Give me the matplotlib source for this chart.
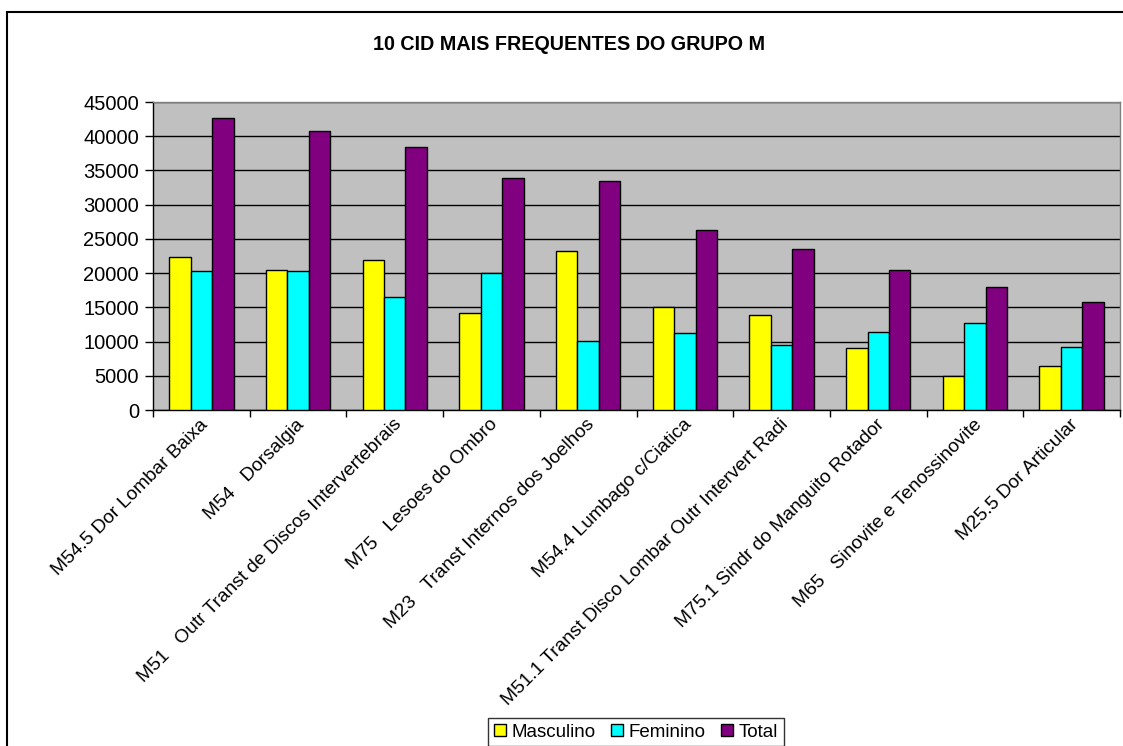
import matplotlib
matplotlib.use("Agg")
import matplotlib.pyplot as plt
import numpy as np
from matplotlib.patches import Rectangle
from matplotlib.transforms import offset_copy

categories = [
    "M54.5 Dor Lombar Baixa",
    "M54   Dorsalgia",
    "M51   Outr Transt de Discos Intervertebrais",
    "M75   Lesoes do Ombro",
    "M23   Transt Internos dos Joelhos",
    "M54.4 Lumbago c/Ciatica",
    "M51.1 Transt Disco Lombar Outr Intervert Radi",
    "M75.1 Sindr do Manguito Rotador",
    "M65   Sinovite e Tenossinovite",
    "M25.5 Dor Articular",
]
masculino = [22300, 20450, 21950, 14100, 23300, 15100, 13900, 9050, 5000, 6500]
feminino = [20250, 20250, 16450, 19950, 10050, 11200, 9550, 11400, 12750, 9250]
total = [42600, 40750, 38450, 33900, 33400, 26350, 23450, 20450, 17900, 15750]
series_names = ["Masculino", "Feminino", "Total"]
yticks = [0, 5000, 10000, 15000, 20000, 25000, 30000, 35000, 40000, 45000]
title = "10 CID MAIS FREQUENTES DO GRUPO M"

plt.rcParams['font.family'] = ['Liberation Sans', 'DejaVu Sans']

W, H = 1123, 746
fig = plt.figure(figsize=(W / 100, H / 100), dpi=100)
fig.patch.set_facecolor("white")

ax = fig.add_axes([153 / W, 1 - 410 / H, (1120 - 153) / W, (410 - 102) / H])
ax.set_facecolor("#C0C0C0")

x = np.arange(len(categories))
bw = 1 / 4.5
colors = ["#FFFF00", "#00FFFF", "#800080"]
for i, (vals, c, name) in enumerate(zip([masculino, feminino, total], colors, series_names)):
    ax.bar(x + (i - 1) * bw, vals, width=bw, color=c, edgecolor="black",
           linewidth=1.0, label=name, zorder=3)

ax.set_xlim(-0.5, len(categories) - 0.5)
ax.set_ylim(0, 45000)
ax.set_yticks(yticks)
ax.set_yticklabels([str(v) for v in yticks], fontsize=14.5)
ax.yaxis.grid(True, color="black", linewidth=1.0, zorder=1)
ax.set_axisbelow(True)

ax.set_xticks(x)
ax.set_xticklabels([])
ax.tick_params(axis="x", which="major", length=0)
ax.set_xticks(np.arange(-0.5, len(categories), 1.0), minor=True)
ax.tick_params(axis="x", which="minor", length=5, width=1, color="black", direction="out")
ax.tick_params(axis="y", length=6, width=1, color="black", pad=4, direction="out")

for s in ["top", "right"]:
    ax.spines[s].set_color("#808080")
    ax.spines[s].set_linewidth(1.0)
for s in ["left", "bottom"]:
    ax.spines[s].set_color("black")
    ax.spines[s].set_linewidth(1.0)

# rotated category labels
trans = offset_copy(ax.get_xaxis_transform(), fig=fig, x=4, y=-12, units="dots")
for xi, lab in zip(x, categories):
    ax.text(xi, 0, lab, rotation=45, rotation_mode="anchor", ha="right", va="center",
            fontsize=13.8, transform=trans)

fig.text(569 / W, 1 - 45 / H, title, ha="center", va="center",
         fontsize=14.2, fontweight="bold")

leg = fig.legend(loc="upper center", bbox_to_anchor=(636 / W, 1 - 718 / H), ncol=3,
                 fontsize=13.5, frameon=True, fancybox=False, edgecolor="black",
                 handlelength=0.65, handleheight=0.65, handletextpad=0.3,
                 columnspacing=0.8, borderpad=0.3, borderaxespad=0)
leg.get_frame().set_linewidth(1.0)

# outer chart border
fig.patches.append(Rectangle((7 / W, -0.2), 2.0, 1.2 - 12 / H, transform=fig.transFigure,
                             fill=False, edgecolor="black", linewidth=1.5, zorder=0))

fig.savefig("out.png", dpi=100)
